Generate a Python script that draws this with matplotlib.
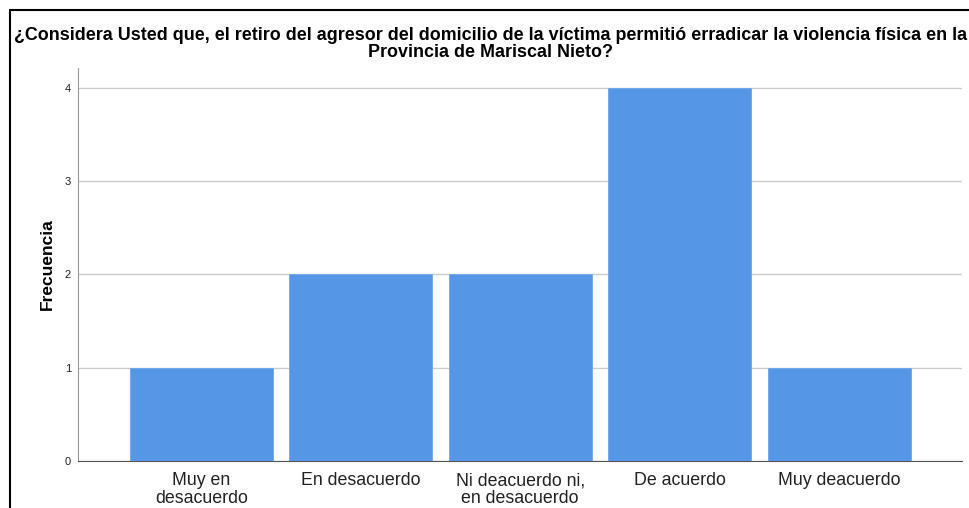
import matplotlib
matplotlib.use("Agg")
import matplotlib.pyplot as plt
from matplotlib.patches import Rectangle

# Data
categorias = ["Muy en\ndesacuerdo", "En desacuerdo", "Ni deacuerdo ni,\nen desacuerdo",
              "De acuerdo", "Muy deacuerdo"]
frecuencia = [1, 2, 2, 4, 1]
y_ticks = [0, 1, 2, 3, 4]

titulo = ("¿Considera Usted que, el retiro del agresor del domicilio de la víctima permitió "
          "erradicar la violencia física en la\nProvincia de Mariscal Nieto?")

plt.rcParams["font.family"] = ["Liberation Sans", "DejaVu Sans"]

fig = plt.figure(figsize=(9.7, 5.08), dpi=100)
W, H = 970, 508
ax = fig.add_axes([78 / W, 1 - 461 / H, (962 - 78) / W, (461 - 68) / H])

x = list(range(len(categorias)))
ax.bar(x, frecuencia, width=0.897, color="#5596E6", edgecolor="#6fa6ea", linewidth=0.6, zorder=3)

ax.set_xlim(-0.774, 4.771)
ax.set_ylim(0, 4.21)
ax.set_yticks(y_ticks)
ax.set_xticks(x)
ax.set_xticklabels(categorias, fontsize=12.8, linespacing=1.08, color="#222222")
ax.tick_params(axis="y", length=0, labelsize=8, pad=5, labelcolor="#222222")
ax.tick_params(axis="x", length=0, pad=8)
ax.grid(axis="y", color="#cccccc", linewidth=1.0, zorder=0)

for s in ["top", "right"]:
    ax.spines[s].set_visible(False)
ax.spines["left"].set_color("#999999")
ax.spines["bottom"].set_color("#555555")

ax.set_ylabel("Frecuencia", fontsize=12.5, fontweight="bold", labelpad=7)

fig.text(491 / W, 1 - 44 / H, titulo, ha="center", va="center", fontsize=12.85,
         fontweight="bold", linespacing=1.05)

# outer frame
fig.patches.append(Rectangle((10 / W, -0.1), 1.2, 1 - 10 / H + 0.1, transform=fig.transFigure,
                             fill=False, edgecolor="black", linewidth=1.5))

fig.savefig("out.png", dpi=100)
